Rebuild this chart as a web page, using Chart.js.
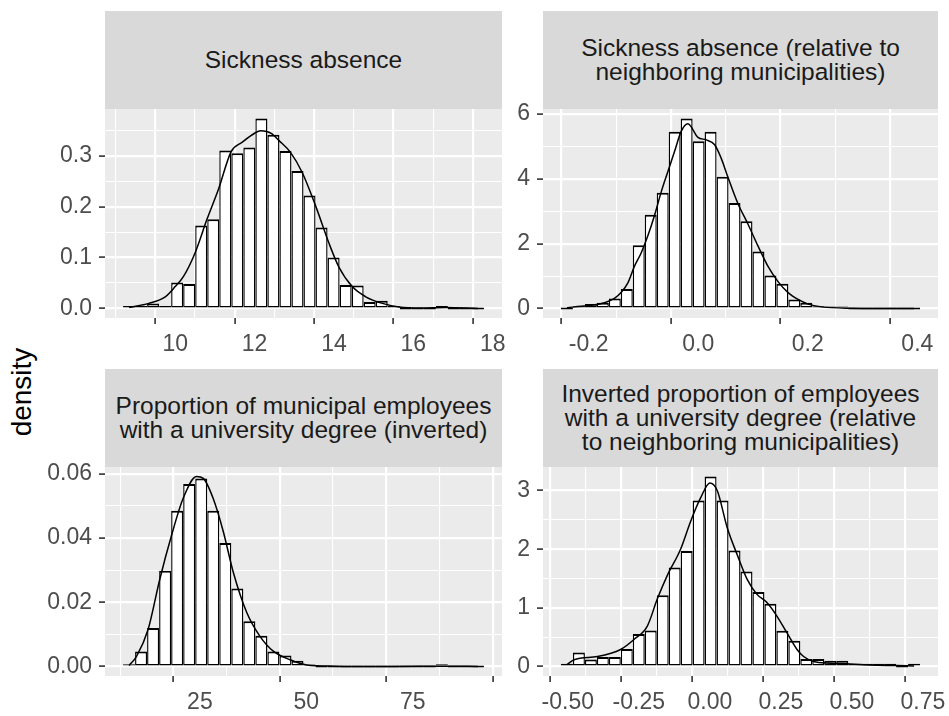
<!DOCTYPE html>
<html>
<head>
<meta charset="utf-8">
<script src="https://cdn.jsdelivr.net/npm/chart.js@4/dist/chart.umd.min.js"></script>
<style>
html,body{margin:0;padding:0;background:#ffffff;width:949px;height:716px;overflow:hidden;}
body{position:relative;font-family:"Liberation Sans",Arial,sans-serif;}
.strip{position:absolute;background:#D9D9D9;color:#1A1A1A;font-size:24.5px;line-height:24px;display:flex;align-items:center;justify-content:center;text-align:center;}
canvas{position:absolute;}
#ylab{position:absolute;left:-78px;top:377px;width:200px;height:30px;line-height:30px;text-align:center;font-size:28px;color:#000;transform:rotate(-90deg);}
</style>
</head>
<body>
<div class="strip" style="left:105px;top:11px;width:397px;height:98px;">Sickness absence</div>
<div class="strip" style="left:543px;top:11px;width:395px;height:98px;">Sickness absence (relative to<br>neighboring municipalities)</div>
<div class="strip" style="left:105px;top:369px;width:397px;height:98px;">Proportion of municipal employees<br>with a university degree (inverted)</div>
<div class="strip" style="left:543px;top:369px;width:395px;height:98px;">Inverted proportion of employees<br>with a university degree (relative<br>to neighboring municipalities)</div>
<div id="ylab">density</div>
<canvas id="c1" width="525" height="290" style="left:0px;top:80px;"></canvas>
<canvas id="c2" width="470" height="290" style="left:505px;top:80px;"></canvas>
<canvas id="c3" width="525" height="276" style="left:0px;top:440px;"></canvas>
<canvas id="c4" width="470" height="276" style="left:505px;top:440px;"></canvas>
<script>
// ---------- Panel 1: Sickness absence ----------
const p1BinStart = 8.686;
const p1BinWidth = 0.3031;
const p1Heights = [0.005,0.005,0.010,0.005,0.051,0.048,0.163,0.175,0.310,0.305,0.316,0.373,0.341,0.309,0.270,0.222,0.159,0.100,0.046,0.045,0.013,0.015,0.005,0,0,0,0.005,0,0,0];
const p1DensX = [8.84,9.33,9.75,10.0,10.21,10.5,10.8,11.09,11.41,11.68,12.02,12.15,12.44,12.61,12.90,13.20,13.54,13.87,14.12,14.46,14.80,15.22,15.64,16.2,16.8,17.63];
const p1DensY = [0.002,0.010,0.023,0.043,0.063,0.109,0.175,0.234,0.308,0.326,0.345,0.349,0.343,0.330,0.307,0.267,0.201,0.129,0.082,0.043,0.023,0.010,0.003,0.001,0.002,0.0];
const p1XTicks = [10,12,14,16,18];
const p1XLabels = ["10","12","14","16","18"];
const p1XMinor = [9,11,13,15,17];
const p1YTicks = [0,0.1,0.2,0.3];
const p1YLabels = ["0.0","0.1","0.2","0.3"];
const p1YMinor = [0.05,0.15,0.25,0.35];

// ---------- Panel 2: Sickness absence (relative) ----------
const p2BinStart = -0.2506;
const p2BinWidth = 0.02185;
const p2Heights = [0,0.07,0.135,0.18,0.31,0.60,1.95,2.89,3.57,5.45,5.86,5.16,5.45,4.06,3.25,2.69,1.76,1.02,0.76,0.28,0.18,0.07,0.05,0.05,0,0,0,0,0,0];
const p2DensX = [-0.2397,-0.226,-0.196,-0.171,-0.153,-0.1409,-0.1287,-0.1165,-0.104,-0.092,-0.080,-0.0677,-0.0555,-0.0433,-0.031,-0.0189,-0.0006,0.0146,0.030,0.042,0.054,0.0726,0.0909,0.109,0.1274,0.1457,0.164,0.1823,0.2006,0.225,0.274,0.394];
const p2DensY = [0.02,0.05,0.10,0.18,0.31,0.49,0.78,1.30,1.72,2.24,2.86,3.59,4.22,4.84,5.47,5.70,5.28,5.20,5.05,4.63,4.06,3.23,2.60,1.93,1.30,0.83,0.49,0.28,0.135,0.05,0.01,0.0];
const p2XTicks = [-0.2,0.0,0.2,0.4];
const p2XLabels = ["-0.2","0.0","0.2","0.4"];
const p2XMinor = [-0.1,0.1,0.3];
const p2YTicks = [0,2,4,6];
const p2YLabels = ["0","2","4","6"];
const p2YMinor = [1,3,5];

// ---------- Panel 3: Proportion with university degree (inverted) ----------
const p3BinStart = 6.95;
const p3BinWidth = 2.825;
const p3Heights = [0.0007,0.0047,0.012,0.0298,0.0485,0.0569,0.0586,0.0485,0.0385,0.0243,0.0141,0.0096,0.0047,0.0034,0.0018,0.0006,0,0,0,0,0,0,0,0,0,0,0.0007,0,0,0];
const p3DensX = [8.36,10.09,12.83,15.58,18.33,21.07,24.2,25.8,28.1,30.5,32.85,36.0,39.1,42.3,46.2,50.1,56.4,70,83,90.3];
const p3DensY = [0.0003,0.0031,0.0115,0.0272,0.0408,0.0524,0.0592,0.0586,0.0524,0.042,0.0293,0.0168,0.0094,0.0047,0.0021,0.0005,0.0001,0,0.0001,0];
const p3XTicks = [25,50,75];
const p3XLabels = ["25","50","75"];
const p3XMinor = [12.5,37.5,62.5,87.5];
const p3YTicks = [0,0.02,0.04,0.06];
const p3YLabels = ["0.00","0.02","0.04","0.06"];
const p3YMinor = [0.01,0.03,0.05];

// ---------- Panel 4: Inverted proportion (relative) ----------
const p4BinStart = -0.524;
const p4BinWidth = 0.04213;
const p4Heights = [0.046,0.24,0.12,0.16,0.16,0.30,0.556,0.614,1.216,1.69,1.97,2.83,3.24,2.83,1.98,1.62,1.27,1.07,0.61,0.44,0.126,0.126,0.10,0.10,0.046,0.046,0.046,0.046,0,0.046];
const p4DensX = [-0.503,-0.478,-0.396,-0.314,-0.267,-0.22,-0.185,-0.15,-0.103,-0.068,-0.033,0,0.026,0.061,0.096,0.131,0.166,0.201,0.236,0.272,0.307,0.33,0.365,0.424,0.482,0.541,0.719];
const p4DensY = [0.03,0.115,0.17,0.29,0.46,0.69,1.15,1.55,2.0,2.47,2.87,3.13,3.0,2.37,1.91,1.49,1.23,1.09,0.86,0.57,0.29,0.17,0.086,0.057,0.046,0.03,0.01];
const p4XTicks = [-0.5,-0.25,0,0.25,0.5,0.75];
const p4XLabels = ["-0.50","-0.25","0.00","0.25","0.50","0.75"];
const p4XMinor = [-0.375,-0.125,0.125,0.375,0.625];
const p4YTicks = [0,1,2,3];
const p4YLabels = ["0","1","2","3"];
const p4YMinor = [0.5,1.5,2.5];

// ---------- drawing ----------
const FONT = '"Liberation Sans", Arial, sans-serif';
Chart.defaults.animation = false;
Chart.defaults.font.family = FONT;

const panelBg = {
  id: 'panelBg',
  beforeDraw(chart) {
    const a = chart.chartArea, c = chart.ctx;
    c.save(); c.fillStyle = '#EBEBEB';
    c.fillRect(a.left, a.top, a.right - a.left, a.bottom - a.top);
    c.restore();
  }
};

function tickList(major, labels, minor) {
  const t = major.map((v, i) => ({value: v, lbl: labels[i], minor: false}))
    .concat(minor.map(v => ({value: v, lbl: '', minor: true})));
  t.sort((a, b) => a.value - b.value);
  return t;
}

function axisCommon(ticksFn) {
  return {
    type: 'linear', offset: false, bounds: 'data',
    afterBuildTicks: s => { s.ticks = ticksFn(); },
    grid: {
      color: '#FFFFFF',
      lineWidth: c => (c.tick && c.tick.minor) ? 1.1 : 2.2,
      drawTicks: true, tickLength: 6,
      tickColor: c => (c.tick && c.tick.minor) ? 'rgba(0,0,0,0)' : '#333333',
      tickWidth: 1.6
    },
    border: {display: false},
    ticks: {
      autoSkip: false, maxRotation: 0, minRotation: 0, padding: 7,
      color: '#4D4D4D', font: {size: 23, family: FONT},
      callback: (v, i, t) => (t[i] && t[i].lbl !== undefined) ? t[i].lbl : ''
    }
  };
}

function makePanel(id, p) {
  const n = p.heights.length;
  const centers = p.heights.map((_, i) => p.start + p.width * (i + 0.5));
  const lo = p.start, hi = p.start + p.width * n, xr = hi - lo;
  const ymax = Math.max(...p.heights, ...p.densY);
  const xAxis = axisCommon(() => tickList(p.xTicks, p.xLabels, p.xMinor));
  xAxis.min = lo - 0.05 * xr; xAxis.max = hi + 0.05 * xr;
  xAxis.afterFit = s => { s.height = p.xAxisH; s.paddingLeft = 0; s.paddingRight = 0; };
  const yAxis = axisCommon(() => tickList(p.yTicks, p.yLabels, p.yMinor));
  yAxis.min = -0.05 * ymax; yAxis.max = 1.05 * ymax;
  yAxis.afterFit = s => { s.width = p.yAxisW; s.paddingTop = 0; s.paddingBottom = 0; };
  new Chart(document.getElementById(id), {
    type: 'bar',
    data: {
      datasets: [
        {
          type: 'line', order: 1,
          data: p.densX.map((x, i) => ({x: x, y: p.densY[i]})),
          borderColor: '#000000', borderWidth: 1.5, pointRadius: 0,
          cubicInterpolationMode: 'monotone', fill: false
        },
        {
          type: 'bar', order: 2,
          data: centers.map((x, i) => ({x: x, y: p.heights[i]})),
          backgroundColor: '#FFFFFF', borderColor: '#000000',
          borderWidth: {top: 2, left: 1.4, right: 1.4, bottom: 1.5},
          borderSkipped: false, barPercentage: 1, categoryPercentage: 1,
          minBarLength: 2, inflateAmount: 0
        }
      ]
    },
    options: {
      responsive: false, maintainAspectRatio: false, events: [],
      layout: {padding: p.pad},
      plugins: {legend: {display: false}, tooltip: {enabled: false}, title: {display: false}},
      scales: {x: xAxis, y: yAxis}
    },
    plugins: [panelBg]
  });
}

makePanel('c1', {start: p1BinStart, width: p1BinWidth, heights: p1Heights, densX: p1DensX, densY: p1DensY,
  xTicks: p1XTicks, xLabels: p1XLabels, xMinor: p1XMinor, yTicks: p1YTicks, yLabels: p1YLabels, yMinor: p1YMinor,
  yAxisW: 105, xAxisH: 52, pad: {top: 29, left: 0, right: 23, bottom: 0}});
makePanel('c2', {start: p2BinStart, width: p2BinWidth, heights: p2Heights, densX: p2DensX, densY: p2DensY,
  xTicks: p2XTicks, xLabels: p2XLabels, xMinor: p2XMinor, yTicks: p2YTicks, yLabels: p2YLabels, yMinor: p2YMinor,
  yAxisW: 38, xAxisH: 52, pad: {top: 29, left: 0, right: 37, bottom: 0}});
makePanel('c3', {start: p3BinStart, width: p3BinWidth, heights: p3Heights, densX: p3DensX, densY: p3DensY,
  xTicks: p3XTicks, xLabels: p3XLabels, xMinor: p3XMinor, yTicks: p3YTicks, yLabels: p3YLabels, yMinor: p3YMinor,
  yAxisW: 105, xAxisH: 40, pad: {top: 27, left: 0, right: 23, bottom: 0}});
makePanel('c4', {start: p4BinStart, width: p4BinWidth, heights: p4Heights, densX: p4DensX, densY: p4DensY,
  xTicks: p4XTicks, xLabels: p4XLabels, xMinor: p4XMinor, yTicks: p4YTicks, yLabels: p4YLabels, yMinor: p4YMinor,
  yAxisW: 38, xAxisH: 40, pad: {top: 27, left: 0, right: 37, bottom: 0}});
</script>
</body>
</html>
